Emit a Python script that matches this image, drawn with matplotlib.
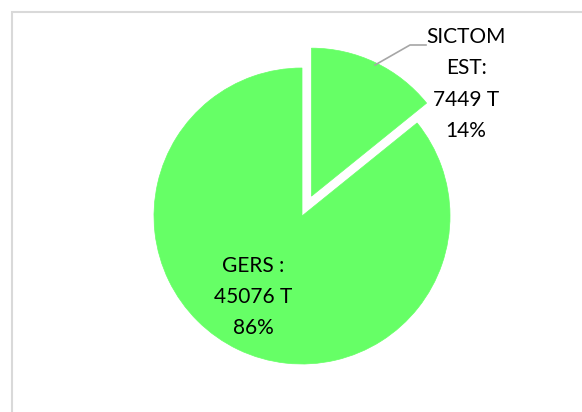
import matplotlib.pyplot as plt
from matplotlib.patches import Rectangle

labels = ["SICTOM\nEST:\n7449 T\n14%", "GERS :\n45076 T\n86%"]
tonnes = [7449, 45076]
colors = ["#66FF66", "#66FF66"]
explode = [22, 0]  # en unités de données (pixels ici)

plt.rcParams['font.family'] = ['Lato', 'DejaVu Sans']

fig = plt.figure(figsize=(5.82, 4.12), dpi=100)
ax = fig.add_axes([0, 0, 1, 1])

# cadre gris
fig.patches.append(Rectangle((12 / 582, -0.1), 1.2, 1 - 12 / 412 + 0.1,
                             transform=fig.transFigure, fill=False,
                             edgecolor="#d9d9d9", linewidth=1.5))

ax.pie(tonnes, colors=colors, explode=explode, startangle=90,
       counterclock=False, center=(302, 196), radius=148,
       wedgeprops=dict(linewidth=0.5, edgecolor="#66FF66"), frame=True)
ax.set_xlim(0, 582)
ax.set_ylim(0, 412)
ax.set_aspect('auto')
ax.axis('off')

# ligne de rappel
ax.plot([375, 410, 426], [347, 367, 367], color="#a6a6a6", linewidth=1.2)

ax.text(466, 328, labels[0], ha='center', va='center', fontsize=15,
        linespacing=1.7, color="#000000")
ax.text(253, 115, labels[1], ha='center', va='center', fontsize=15,
        linespacing=1.7, color="#000000")

plt.savefig("out.png", dpi=100)
